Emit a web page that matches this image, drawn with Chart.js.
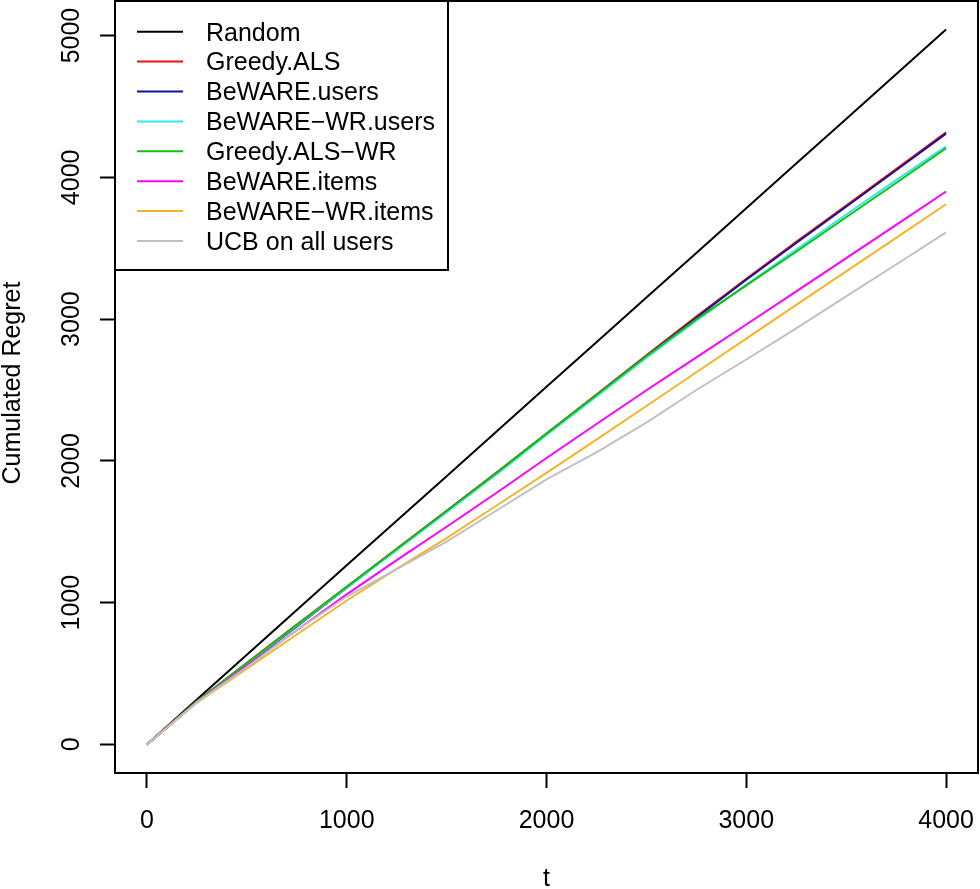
<!DOCTYPE html>
<html>
<head>
<meta charset="utf-8">
<script src="https://cdn.jsdelivr.net/npm/chart.js@4.4.1/dist/chart.umd.min.js"></script>
<style>
  html, body { margin: 0; padding: 0; background: #fff; }
  #wrap { width: 980px; height: 889px; }
</style>
</head>
<body>
<div id="wrap"><canvas id="c" width="980" height="889"></canvas></div>
<script>
// ---- data ----
const tValues = [0, 250, 500, 750, 1000, 1250, 1500, 1750, 2000, 2250, 2500, 2750, 3000, 3250, 3500, 3750, 4000];
const randomRegret   = [0, 316, 632, 948, 1263, 1578, 1892, 2207, 2522, 2837, 3152, 3467, 3782, 4097, 4412, 4727, 5042];
const greedyALS      = [0, 305, 575, 845, 1112, 1380, 1648, 1918, 2192, 2468, 2745, 3018, 3285, 3545, 3800, 4058, 4318];
const bewareUsers    = [0, 300, 565, 832, 1105, 1375, 1644, 1914, 2188, 2462, 2738, 3010, 3277, 3537, 3792, 4050, 4308];
const bewareWRUsers  = [0, 302, 570, 838, 1106, 1372, 1638, 1906, 2182, 2455, 2728, 2990, 3242, 3490, 3738, 3980, 4218];
const greedyALSWR    = [0, 305, 572, 842, 1112, 1378, 1646, 1915, 2192, 2465, 2738, 2998, 3238, 3475, 3718, 3960, 4205];
const bewareItems    = [0, 298, 555, 805, 1058, 1300, 1535, 1775, 2020, 2260, 2498, 2730, 2962, 3195, 3430, 3665, 3900];
const bewareWRItems  = [0, 295, 535, 775, 1015, 1238, 1455, 1685, 1915, 2150, 2387, 2625, 2862, 3100, 3337, 3573, 3810];
const ucbAllUsers    = [0, 297, 545, 805, 1043, 1237, 1430, 1650, 1870, 2060, 2270, 2500, 2715, 2935, 3160, 3385, 3612];

const seriesLabels = ["Random", "Greedy.ALS", "BeWARE.users", "BeWARE\u2212WR.users", "Greedy.ALS\u2212WR", "BeWARE.items", "BeWARE\u2212WR.items", "UCB on all users"];
const seriesValues = [randomRegret, greedyALS, bewareUsers, bewareWRUsers, greedyALSWR, bewareItems, bewareWRItems, ucbAllUsers];
const seriesColors = ["#000000", "#EE1111", "#10109A", "#33E8E8", "#10C010", "#FF00FF", "#F2B52A", "#C0C0C0"];

const xTicks = [0, 1000, 2000, 3000, 4000];
const yTicks = [0, 1000, 2000, 3000, 4000, 5000];
const xTitle = "t";
const yTitle = "Cumulated Regret";

// ---- chart ----
const FONT = "25px 'Liberation Sans', Arial, sans-serif";

const datasets = seriesLabels.map((lab, i) => ({
  label: lab,
  data: tValues.map((t, j) => ({ x: t, y: seriesValues[i][j] })),
  borderColor: seriesColors[i],
  backgroundColor: seriesColors[i],
  borderWidth: 2,
  pointRadius: 0,
  tension: 0,
  fill: false,
  order: seriesLabels.length - 1 - i
}));

const rStyle = {
  id: 'rStyle',
  afterDraw(chart) {
    const ctx = chart.ctx;
    const a = chart.chartArea;
    const xs = chart.scales.x, ys = chart.scales.y;
    ctx.save();
    // plot box
    ctx.strokeStyle = '#000';
    ctx.lineWidth = 2;
    ctx.strokeRect(a.left, a.top, a.right - a.left, a.bottom - a.top);
    // tick labels
    ctx.fillStyle = '#000';
    ctx.font = FONT;
    ctx.textAlign = 'center';
    ctx.textBaseline = 'alphabetic';
    xTicks.forEach(v => {
      ctx.fillText(String(v), xs.getPixelForValue(v), 828);
    });
    yTicks.forEach(v => {
      ctx.save();
      ctx.translate(79, ys.getPixelForValue(v));
      ctx.rotate(-Math.PI / 2);
      ctx.fillText(String(v), 0, 0);
      ctx.restore();
    });
    // axis titles
    ctx.fillText(xTitle, (a.left + a.right) / 2, 886);
    ctx.save();
    ctx.translate(20, (a.top + a.bottom) / 2 - 4);
    ctx.rotate(-Math.PI / 2);
    ctx.fillText(yTitle, 0, 0);
    ctx.restore();
    // legend
    const lx = a.left, ly = a.top, lw = 448 - a.left, lh = 270 - a.top;
    ctx.fillStyle = '#fff';
    ctx.fillRect(lx, ly, lw, lh);
    ctx.strokeStyle = '#000';
    ctx.lineWidth = 2;
    ctx.strokeRect(lx, ly, lw, lh);
    ctx.textAlign = 'left';
    chart.data.datasets.forEach((ds, i) => {
      const cy = 31.7 + i * 29.9;
      ctx.strokeStyle = ds.borderColor;
      ctx.lineWidth = 2;
      ctx.beginPath();
      ctx.moveTo(137, cy);
      ctx.lineTo(183, cy);
      ctx.stroke();
      ctx.fillStyle = '#000';
      ctx.fillText(ds.label, 206, cy + 8.8);
    });
    ctx.restore();
  }
};

new Chart(document.getElementById('c'), {
  type: 'line',
  data: { datasets },
  options: {
    responsive: false,
    animation: false,
    devicePixelRatio: 1,
    layout: { padding: { left: 0, right: 2, top: 1, bottom: 0 } },
    plugins: { legend: { display: false }, tooltip: { enabled: false } },
    scales: {
      x: {
        type: 'linear',
        min: -160, max: 4160,
        afterBuildTicks: s => { s.ticks = xTicks.map(v => ({ value: v })); },
        afterFit: s => { s.height = 116; },
        ticks: { display: false },
        grid: { display: true, drawOnChartArea: false, drawTicks: true, tickLength: 15, tickColor: '#000', tickWidth: 2 },
        border: { display: false }
      },
      y: {
        type: 'linear',
        min: -201.7, max: 5243.7,
        afterBuildTicks: s => { s.ticks = yTicks.map(v => ({ value: v })); },
        afterFit: s => { s.width = 115; },
        ticks: { display: false },
        grid: { display: true, drawOnChartArea: false, drawTicks: true, tickLength: 15, tickColor: '#000', tickWidth: 2 },
        border: { display: false }
      }
    }
  },
  plugins: [rStyle]
});
</script>
</body>
</html>
